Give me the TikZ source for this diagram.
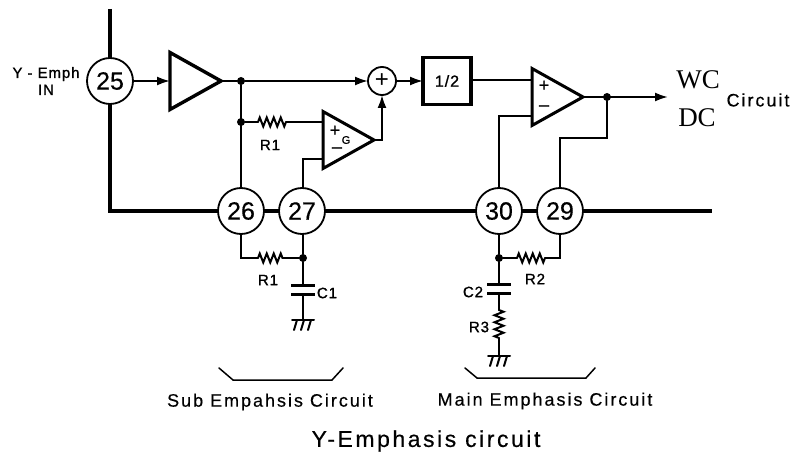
\documentclass[tikz,border=0pt]{standalone}
\usepackage{fontspec}
\setmainfont{Liberation Sans}
\newfontfamily\spacedfont[LetterSpace=11,FakeBold=0.4]{Liberation Sans}
\newfontfamily\heavyfont[FakeBold=1.2,LetterSpace=6]{Liberation Sans}
\newfontfamily\pinfont[FakeBold=0.4]{Liberation Sans}
\newfontfamily\wcfont{Liberation Serif}
\usetikzlibrary{shapes.geometric, arrows.meta, decorations.pathmorphing}
\tikzset{
  wire/.style={line width=2pt, line cap=round, line join=miter},
  bus/.style={line width=3.4pt, line join=miter},
  sig/.style={wire, -{Latex[length=13pt, width=9pt]}},
  pin/.style={draw, circle, line width=1.8pt, minimum size=46pt, inner sep=0pt, outer sep=0pt, font=\pinfont\fontsize{25}{25}\selectfont, fill=white},
  amp/.style={draw, isosceles triangle, isosceles triangle stretches, shape border rotate=0, minimum width=57pt, minimum height=51pt, inner sep=0pt, outer sep=0pt, anchor=lower side},
  joint/.style={circle, fill=black, minimum size=8pt, inner sep=0pt, outer sep=0pt},
  plates/.style={minimum width=24pt, minimum height=9pt, inner sep=0pt, outer sep=0pt},
  plate/.style={line width=3pt},
  zig/.style={wire, decorate, decoration={zigzag, amplitude=4.5pt, segment length=7pt}},
  small/.style={inner sep=0pt, font=\heavyfont\fontsize{15}{15}\selectfont},
  caption/.style={inner sep=0pt, font=\spacedfont\fontsize{18}{18}\selectfont},
  gndsym/.pic={
    \draw[wire] (-11,0) -- (11,0);
    \foreach \x in {-7,0,7} \draw[wire] (\x+1,0) -- (\x-2,10);
  }
}
\begin{document}
\begin{tikzpicture}[x=1pt, y=-1pt]
  \useasboundingbox (0,0) rectangle (792,454);
  % Pins
  \node[pin] (p25) at (110,81) {25};
  \node[pin] (p26) at (241,211) {26};
  \node[pin] (p27) at (302,211) {27};
  \node[pin] (p30) at (499,211) {30};
  \node[pin] (p29) at (560,211) {29};
  % Blocks
  \node[amp, line width=3.4pt] (buf) at (170,81) {};
  \node[amp, line width=3pt] (ampg) at (323,140) {};
  \node[amp, line width=3pt] (ampm) at (532,97) {};
  \node[draw, circle, line width=1.8pt, minimum size=28pt, inner sep=0pt, outer sep=0pt, font=\fontsize{24}{24}\selectfont] (sum) at (382,81) {+};
  \node[draw, line width=3.4pt, minimum width=48pt, minimum height=47pt, inner sep=0pt, outer sep=0pt, font=\heavyfont\fontsize{16}{16}\selectfont] (half) at (447,81) {1/2};
  % Junctions
  \node[joint] (ja) at (241,81) {};
  \node[joint] (jb) at (241,122) {};
  \node[joint] (jc) at (303,258) {};
  \node[joint] (jd) at (499,258) {};
  \node[joint] (je) at (607,97) {};
  \node[plates] (c1) at (303,289.5) {};
  \node[plates] (c2) at (499,288.5) {};
  \coordinate (bustop) at (110,9);
  \coordinate (busend) at (712,211);
  \coordinate (gplus) at (323,122);
  \coordinate (gminus) at (323,159);
  \coordinate (mplus) at (532,80);
  \coordinate (mminus) at (532,116);
  \coordinate (out) at (668,97);
  \coordinate (gnda) at (303,320);
  \coordinate (gndb) at (499,356);
  % Resistor ends
  \coordinate (ra) at (258,122);
  \coordinate (rb) at (286,122);
  \coordinate (rc) at (258,258);
  \coordinate (rd) at (283,258);
  \coordinate (re) at (517,258);
  \coordinate (rf) at (545,258);
  \coordinate (rg) at (499,310);
  \coordinate (rh) at (499,338);
  % Bus
  \draw[bus] (bustop) -- (p25);
  \draw[bus] (p25) |- (p26);
  \draw[bus] (p26) -- (p27);
  \draw[bus] (p27) -- (p30);
  \draw[bus] (p30) -- (p29);
  \draw[bus] (p29) -- (busend);
  % Signal path
  \draw[sig] (p25) -- (buf.lower side);
  \draw[wire] (buf.apex) -- (ja);
  \draw[sig] (ja) -- (sum);
  \draw[sig] (sum) -- (half);
  \draw[sig] (ampg.apex) -| (sum);
  \draw[wire] (half.east |- mplus) -- (mplus);
  \draw[sig] (ampm.apex) -- (out);
  \draw[wire] (ja) -- (p26);
  \draw[wire] (jb) -- (ra);
  \draw[zig] (ra) -- (rb);
  \draw[wire] (rb) -- (gplus);
  \draw[wire] (gminus) -| (p27.north -| jc);
  \draw[wire] (mminus) -| (p30);
  \draw[wire] (je) -- (607,138) -| (p29);
  % Lower networks
  \draw[wire] (p26) |- (rc);
  \draw[zig] (rc) -- (rd);
  \draw[wire] (rd) -- (jc);
  \draw[wire] (p27.south -| jc) -- (jc);
  \draw[wire] (jc) -- (c1.north);
  \draw[wire] (c1.south) -- (gnda);
  \draw[plate] (c1.north west) -- (c1.north east);
  \draw[plate] (c1.south west) -- (c1.south east);
  \pic at (gnda) {gndsym};
  \draw[wire] (p30) -- (jd);
  \draw[wire] (jd) -- (re);
  \draw[zig] (re) -- (rf);
  \draw[wire] (rf) -| (p29);
  \draw[wire] (jd) -- (c2.north);
  \draw[plate] (c2.north west) -- (c2.north east);
  \draw[plate] (c2.south west) -- (c2.south east);
  \draw[wire] (c2.south) -- (rg);
  \draw[zig] (rg) -- (rh);
  \draw[wire] (rh) -- (gndb);
  \pic at (gndb) {gndsym};
  % Brackets
  \draw[wire, line width=1.5pt] (219,368) -- (233,380) -- (332,380) -- (343,368);
  \draw[wire, line width=1.5pt] (465,368) -- (477,378) -- (586,378) -- (595,368);
  % Labels
  \node[small, align=center] (lin) at (46,81) {Y - Emph\\[2pt]IN};
  \node[small] (lr1a) at (270,145) {R1};
  \node[small] (lr1b) at (268,280) {R1};
  \node[small] (lc1) at (327,293) {C1};
  \node[small] (lc2) at (473,292) {C2};
  \node[small] (lr2) at (535,279) {R2};
  \node[small] (lr3) at (479,327) {R3};
  \node[small, font=\heavyfont\fontsize{18}{18}\selectfont] (lgp) at (335,131) {+};
  \node[small, font=\heavyfont\fontsize{11}{11}\selectfont] (lg) at (346,140) {G};
  \node[small, font=\heavyfont\fontsize{18}{18}\selectfont] (lgm) at (337,150) {–};
  \node[small, font=\heavyfont\fontsize{18}{18}\selectfont] (lmp) at (544,86) {+};
  \node[small, font=\heavyfont\fontsize{18}{18}\selectfont] (lmm) at (544,108) {–};
  \node[inner sep=0pt, font=\wcfont\fontsize{27}{27}\selectfont] (lwc) at (698,80) {WC};
  \node[inner sep=0pt, font=\wcfont\fontsize{27}{27}\selectfont] (ldc) at (697,118) {DC};
  \node[caption] (lcir) at (758,100) {Circuit};
  \node[caption] (lsub) at (270,402) {Sub Empahsis Circuit};
  \node[caption] (lmain) at (545,401) {Main Emphasis Circuit};
  \node[caption, font=\spacedfont\fontsize{23}{23}\selectfont] (ltitle) at (426,441) {Y-Emphasis circuit};
\end{tikzpicture}
\end{document}
